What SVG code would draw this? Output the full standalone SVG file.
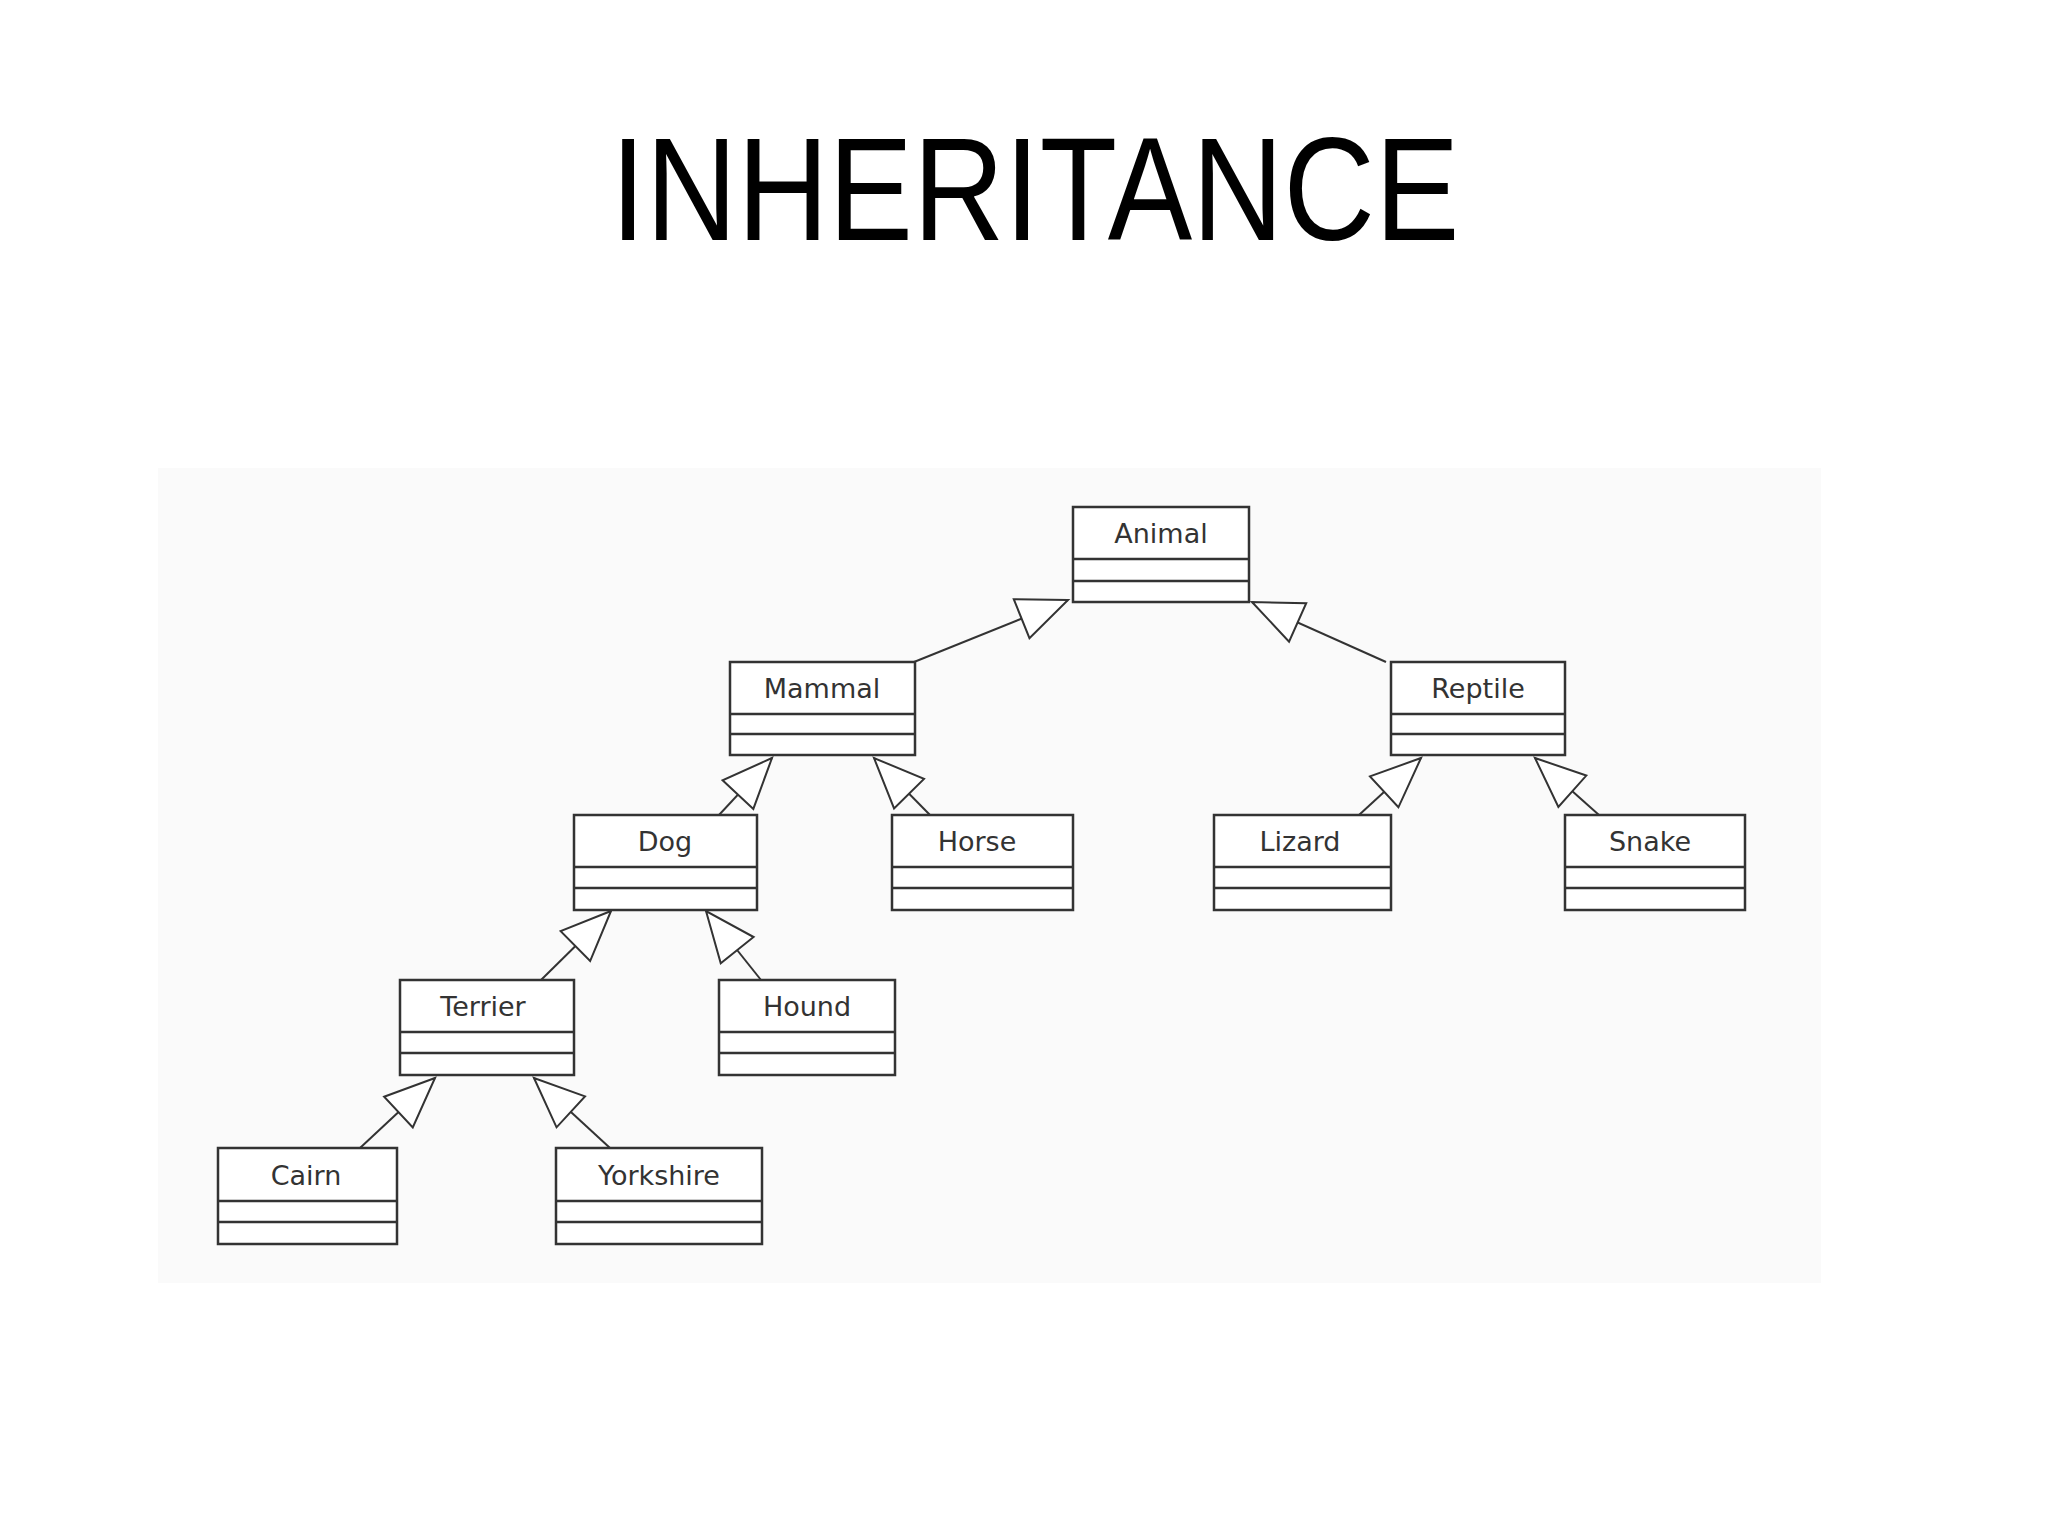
<svg xmlns="http://www.w3.org/2000/svg" width="2048" height="1536" viewBox="0 0 2048 1536">
<style>
.box rect{fill:#fff;stroke:#333;stroke-width:2.5}
.box line{stroke:#333;stroke-width:2.5}
.box text{font-family:"DejaVu Sans",sans-serif;font-size:27px;fill:#333;text-anchor:middle}
.conn line{stroke:#333;stroke-width:2;marker-end:url(#tri)}
</style>
<defs>
<marker id="tri" markerUnits="userSpaceOnUse" markerWidth="60" markerHeight="50" viewBox="-56 -25 60 50" refX="0" refY="0" orient="auto" overflow="visible">
<path d="M0,0 L-50,-21 L-50,21 Z" fill="#fff" stroke="#333" stroke-width="2"/>
</marker>
</defs>
<rect width="2048" height="1536" fill="#fff"/>
<rect x="158" y="468" width="1663" height="815" fill="#fafafa"/>
<text x="1035" y="240" font-family="Liberation Sans, Arial, sans-serif" font-size="147" text-anchor="middle" textLength="849" lengthAdjust="spacingAndGlyphs" fill="#000">INHERITANCE</text>
<g class="conn">
<line x1="914" y1="662" x2="1068" y2="600"/>
<line x1="1386" y1="662" x2="1252" y2="602"/>
<line x1="719" y1="815" x2="772" y2="758"/>
<line x1="930" y1="815" x2="874" y2="758"/>
<line x1="1359" y1="815" x2="1421" y2="758"/>
<line x1="1599" y1="815" x2="1535" y2="758"/>
<line x1="541" y1="980" x2="611" y2="911"/>
<line x1="761" y1="980" x2="706" y2="911"/>
<line x1="360" y1="1148" x2="435" y2="1078"/>
<line x1="610" y1="1148" x2="534" y2="1078"/>
</g>
<g id="animal" class="box" transform="translate(1073,507)"><rect width="176" height="95"/><line x1="0" y1="52" x2="176" y2="52"/><line x1="0" y1="74" x2="176" y2="74"/><text x="88" y="36">Animal</text></g>
<g id="mammal" class="box" transform="translate(730,662)"><rect width="185" height="93"/><line x1="0" y1="52" x2="185" y2="52"/><line x1="0" y1="72" x2="185" y2="72"/><text x="92" y="36">Mammal</text></g>
<g id="reptile" class="box" transform="translate(1391,662)"><rect width="174" height="93"/><line x1="0" y1="52" x2="174" y2="52"/><line x1="0" y1="72" x2="174" y2="72"/><text x="87" y="36">Reptile</text></g>
<g id="dog" class="box" transform="translate(574,815)"><rect width="183" height="95"/><line x1="0" y1="52" x2="183" y2="52"/><line x1="0" y1="73" x2="183" y2="73"/><text x="91" y="36">Dog</text></g>
<g id="horse" class="box" transform="translate(892,815)"><rect width="181" height="95"/><line x1="0" y1="52" x2="181" y2="52"/><line x1="0" y1="73" x2="181" y2="73"/><text x="85" y="36">Horse</text></g>
<g id="lizard" class="box" transform="translate(1214,815)"><rect width="177" height="95"/><line x1="0" y1="52" x2="177" y2="52"/><line x1="0" y1="73" x2="177" y2="73"/><text x="86" y="36">Lizard</text></g>
<g id="snake" class="box" transform="translate(1565,815)"><rect width="180" height="95"/><line x1="0" y1="52" x2="180" y2="52"/><line x1="0" y1="73" x2="180" y2="73"/><text x="85" y="36">Snake</text></g>
<g id="terrier" class="box" transform="translate(400,980)"><rect width="174" height="95"/><line x1="0" y1="52" x2="174" y2="52"/><line x1="0" y1="73" x2="174" y2="73"/><text x="83" y="36">Terrier</text></g>
<g id="hound" class="box" transform="translate(719,980)"><rect width="176" height="95"/><line x1="0" y1="52" x2="176" y2="52"/><line x1="0" y1="73" x2="176" y2="73"/><text x="88" y="36">Hound</text></g>
<g id="cairn" class="box" transform="translate(218,1148)"><rect width="179" height="96"/><line x1="0" y1="53" x2="179" y2="53"/><line x1="0" y1="74" x2="179" y2="74"/><text x="88" y="37">Cairn</text></g>
<g id="yorkshire" class="box" transform="translate(556,1148)"><rect width="206" height="96"/><line x1="0" y1="53" x2="206" y2="53"/><line x1="0" y1="74" x2="206" y2="74"/><text x="103" y="37">Yorkshire</text></g>
</svg>
